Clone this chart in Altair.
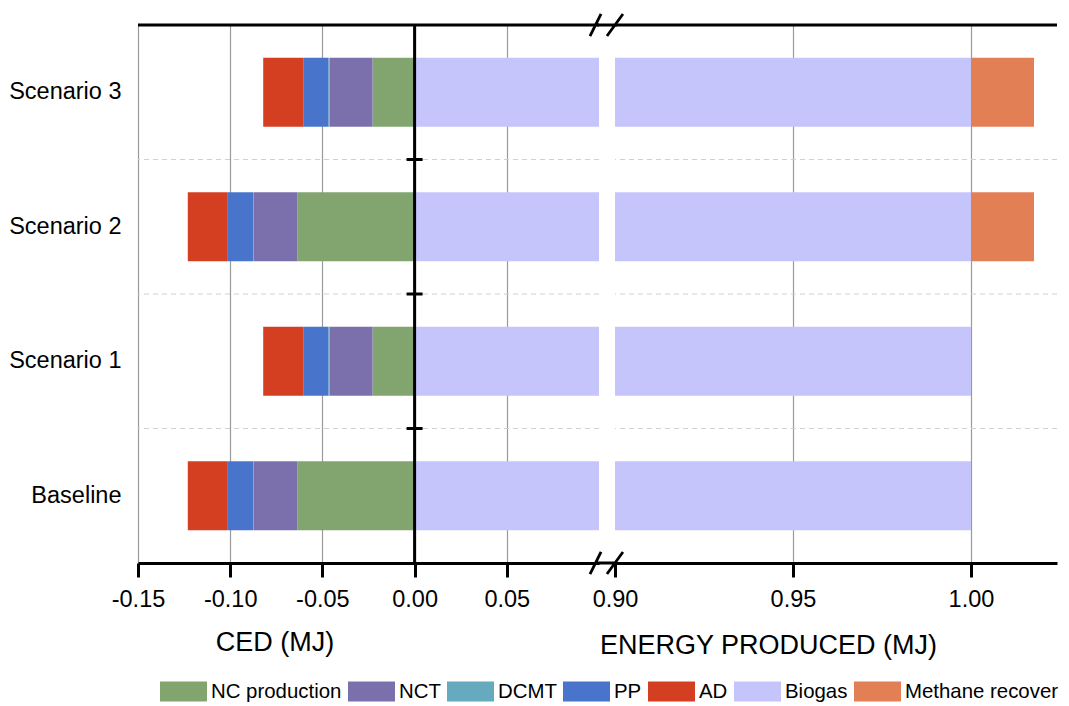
import altair as alt
import pandas as pd

# ---- data -------------------------------------------------------------
scenarios = ["Scenario 3", "Scenario 2", "Scenario 1", "Baseline"]
components = ["NC production", "NCT", "DCMT", "PP", "AD", "Biogas", "Methane recovery"]
component_colors = ["#82A570", "#7B70AC", "#66AABF", "#4874CB", "#D33F20", "#C5C5FC", "#E37F55"]

nc_production = [-0.0228, -0.0635, -0.0228, -0.0635]
nct = [-0.0232, -0.0236, -0.0232, -0.0236]
dcmt = [-0.0008, -0.0004, -0.0008, -0.0004]
pp = [-0.0136, -0.0138, -0.0136, -0.0138]
ad = [-0.0217, -0.0217, -0.0217, -0.0217]
biogas = [1.000, 1.000, 1.000, 1.000]
methane_recovery = [0.0177, 0.0177, 0.0, 0.0]

ced_ticks = [-0.15, -0.10, -0.05, 0.00, 0.05]
energy_ticks = [0.90, 0.95, 1.00]
ced_domain = [-0.15, 0.10]
energy_domain = [0.90, 1.02416]
break_value = [0.90]
zero_value = [0.0]
separators = scenarios[1:]

series = [nc_production, nct, dcmt, pp, ad, biogas, methane_recovery]
rows = []
for k, (comp, vals) in enumerate(zip(components, series)):
    for s, v in zip(scenarios, vals):
        if v != 0:
            rows.append({"scenario": s, "component": comp, "value": v, "order": k})
df = pd.DataFrame(rows)
sep_df = pd.DataFrame({"scenario": separators, "x": zero_value * len(separators)})
brk_df = pd.DataFrame({"x": break_value})
zero_df = pd.DataFrame({"x": zero_value})

# ---- layout constants --------------------------------------------------
PLOT_H = 538
LEFT_W = 461
RIGHT_W = 442
FONT = "Liberation Sans"

y_scale = alt.Scale(domain=scenarios, paddingInner=0, paddingOuter=0)
y_axis = alt.Axis(title=None, labelFontSize=23.5, labelPadding=17, ticks=False,
                  domain=False, grid=False, labelColor="black", labelFont=FONT)

ced_scale = alt.Scale(domain=ced_domain, nice=False, zero=False)
energy_scale = alt.Scale(domain=energy_domain, nice=False, zero=False)

ced_axis = alt.Axis(
    values=ced_ticks,
    labelExpr="replace(format(datum.value, '.2f'), '\u2212', '-')",
    title="CED (MJ)", titleX=136.5, titleY=87, titleAlign="center",
    titleBaseline="alphabetic", labelFlush=False, labelOverlap=False,
)
energy_axis = alt.Axis(
    values=energy_ticks, format=".2f",
    title="ENERGY PRODUCED (MJ)", titleX=153, titleY=90, titleAlign="center",
    titleBaseline="alphabetic", labelFlush=False, labelOverlap=False,
    gridOpacity={"condition": {"test": "datum.value < 0.92", "value": 0}, "value": 1},
)

color = alt.Color(
    "component:N",
    scale=alt.Scale(domain=components, range=component_colors),
    legend=alt.Legend(
        title=None, orient="none", legendX=22, legendY=643, direction="horizontal",
        symbolType="M-1,-0.425H1V0.425H-1Z", symbolSize=2209, symbolStrokeWidth=0,
        symbolOpacity=1, labelFontSize=20.4, labelFont=FONT, labelColor="black",
        labelOffset=4, columnPadding=6, labelLimit=400,
        labelExpr="datum.label == 'Methane recovery' ? 'Methane recover' : datum.label",
    ),
)


def bars(xscale, xaxis, yaxis):
    return alt.Chart(df).mark_bar(height={"band": 0.513}, clip=True).encode(
        x=alt.X("value:Q", stack="zero", scale=xscale, axis=xaxis),
        y=alt.Y("scenario:N", sort=scenarios, scale=y_scale, axis=yaxis),
        color=color,
        order=alt.Order("order:Q"),
    )


def separators_layer(xscale, xaxis, yaxis):
    return alt.Chart(sep_df).mark_rule(color="#d0d0d0", strokeDash=[5, 4], strokeWidth=1).encode(
        y=alt.Y("scenario:N", sort=scenarios, scale=y_scale, axis=yaxis, bandPosition=0),
    )


def top_rule():
    return alt.Chart(zero_df).mark_rule(color="black", strokeWidth=3).encode(y=alt.value(0))


# ---- left panel (CED) --------------------------------------------------
zero_rule = alt.Chart(zero_df).mark_rule(color="black", strokeWidth=3).encode(
    x=alt.X("x:Q", scale=ced_scale, axis=ced_axis)
)
zero_ticks = alt.Chart(sep_df).mark_point(
    shape="M-1,0L1,0", size=256, color="black", strokeWidth=3, filled=False, opacity=1
).encode(
    x=alt.X("x:Q", scale=ced_scale, axis=ced_axis),
    y=alt.Y("scenario:N", sort=scenarios, scale=y_scale, axis=y_axis, bandPosition=0),
)

left = alt.layer(
    bars(ced_scale, ced_axis, y_axis),
    separators_layer(ced_scale, ced_axis, y_axis),
    top_rule(),
    zero_rule,
    zero_ticks,
).properties(width=LEFT_W, height=PLOT_H)

# ---- right panel (energy produced) -----------------------------------
break_shape = "M-1,0.69L-0.31,-0.69M0.06,0.69L1.06,-0.69M-0.56,0L0.69,0"


def break_mark(ypix):
    return alt.Chart(brk_df).mark_point(
        shape=break_shape, size=1024, color="black", strokeWidth=2.8,
        filled=False, opacity=1, xOffset=-9
    ).encode(
        x=alt.X("x:Q", scale=energy_scale, axis=energy_axis),
        y=alt.value(ypix),
    )


right = alt.layer(
    bars(energy_scale, energy_axis, None),
    separators_layer(energy_scale, energy_axis, None),
    top_rule(),
    break_mark(0),
    break_mark(PLOT_H),
).properties(width=RIGHT_W, height=PLOT_H)

chart = alt.hconcat(left, right, spacing=16, bounds="flush").properties(
    padding={"left": 0, "top": 0, "right": 0, "bottom": 0}
).configure(font=FONT).configure_view(stroke=None).configure_axisX(
    domainColor="black", domainWidth=3, tickColor="black", tickWidth=3, tickSize=14,
    labelFontSize=23.5, labelColor="black", labelFont=FONT, labelPadding=29,
    labelBaseline="alphabetic",
    titleFontSize=27, titleFontWeight="normal", titleColor="black", titleFont=FONT,
    grid=True, gridColor="#9a9a9a", gridWidth=1.2,
)

chart.save("out.html", embed_options={"renderer": "svg", "actions": False})
